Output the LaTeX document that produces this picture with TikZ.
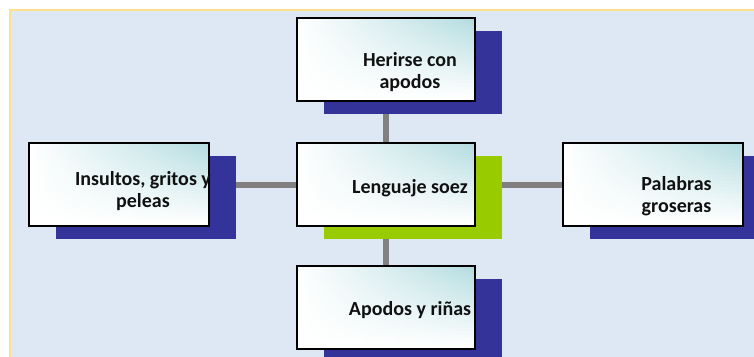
\documentclass[tikz,border=0pt]{standalone}
\usepackage{fontspec}
\setmainfont{Carlito}
\usetikzlibrary{calc}
\definecolor{pagebg}{HTML}{DDE8F4}
\definecolor{frameyellow}{HTML}{FFE08C}
\definecolor{shblue}{HTML}{333399}
\definecolor{shgreen}{HTML}{99CC00}
\definecolor{boxteal}{HTML}{B3DCE0}
\definecolor{connector}{HTML}{808080}
\definecolor{txt}{HTML}{111111}
\pgfdeclarelayer{bgl}
\pgfdeclarelayer{shd}
\pgfsetlayers{bgl,shd,main}
\tikzset{
  box/.style={rectangle, draw=black, line width=1.8pt, anchor=north west,
    minimum height=83pt, inner sep=0pt, outer sep=0pt,
    path picture={
      \foreach \i in {0,...,23}{
        \pgfmathsetmacro{\amt}{100*(1-\i/23)}
        \pgfmathsetmacro{\ta}{\i/24}
        \pgfmathsetmacro{\tb}{(\i+1.3)/24}
        \shade[left color=white, right color=boxteal!\amt!white, shading angle=90]
          ($(path picture bounding box.north west)!\ta!(path picture bounding box.south west)$)
          rectangle
          ($(path picture bounding box.north east)!\tb!(path picture bounding box.south east)$);
      }
    }},
  boxtext/.style={anchor=base, align=center, inner sep=0pt, text=txt,
    font=\bfseries\fontsize{20}{22}\selectfont},
  conn/.style={draw=connector, line width=6pt},
}
\newcommand{\dropshadow}[2]{%
  \fill[#2] ([shift={(27pt,-13pt)}]#1.north west) rectangle ([shift={(27pt,-13pt)}]#1.south east);}
\begin{document}
\begin{tikzpicture}[x=1pt, y=-1pt]
\useasboundingbox (0,0) rectangle (754,356);
% boxes
\node[box, minimum width=178pt] (top) at (297,18) {};
\node[box, minimum width=178pt] (mid) at (297,143) {};
\node[box, minimum width=180pt] (lft) at (29,143) {};
\node[box, minimum width=180pt] (rgt) at (563,143) {};
\node[box, minimum width=178pt] (bot) at (297,266) {};
% texts (base anchor = last line baseline)
\node[boxtext] (topt) at (410,88) {Herirse con\\apodos};
\node[boxtext] (midt) at (410,193) {Lenguaje soez};
\node[boxtext] (lftt) at (143,207) {Insultos, gritos y\\peleas};
\node[boxtext] (rgtt) at (676.5,212) {Palabras\\groseras};
\node[boxtext] (bott) at (410,315) {Apodos y riñas};
\begin{pgfonlayer}{bgl}
  \fill[pagebg] (10,9) rectangle (760,360);
  \draw[frameyellow, line width=2pt] (9.5,360) -- (9.5,9.5) -- (760,9.5);
  \draw[conn] (top.center) -- (mid.center);
  \draw[conn] (mid.center) -- (bot.center);
  \draw[conn] (lft.center) -- (mid.center);
  \draw[conn] (mid.center) -- (rgt.center);
\end{pgfonlayer}
\begin{pgfonlayer}{shd}
  \dropshadow{top}{shblue}
  \dropshadow{mid}{shgreen}
  \dropshadow{lft}{shblue}
  \dropshadow{rgt}{shblue}
  \dropshadow{bot}{shblue}
\end{pgfonlayer}
\end{tikzpicture}
\end{document}
